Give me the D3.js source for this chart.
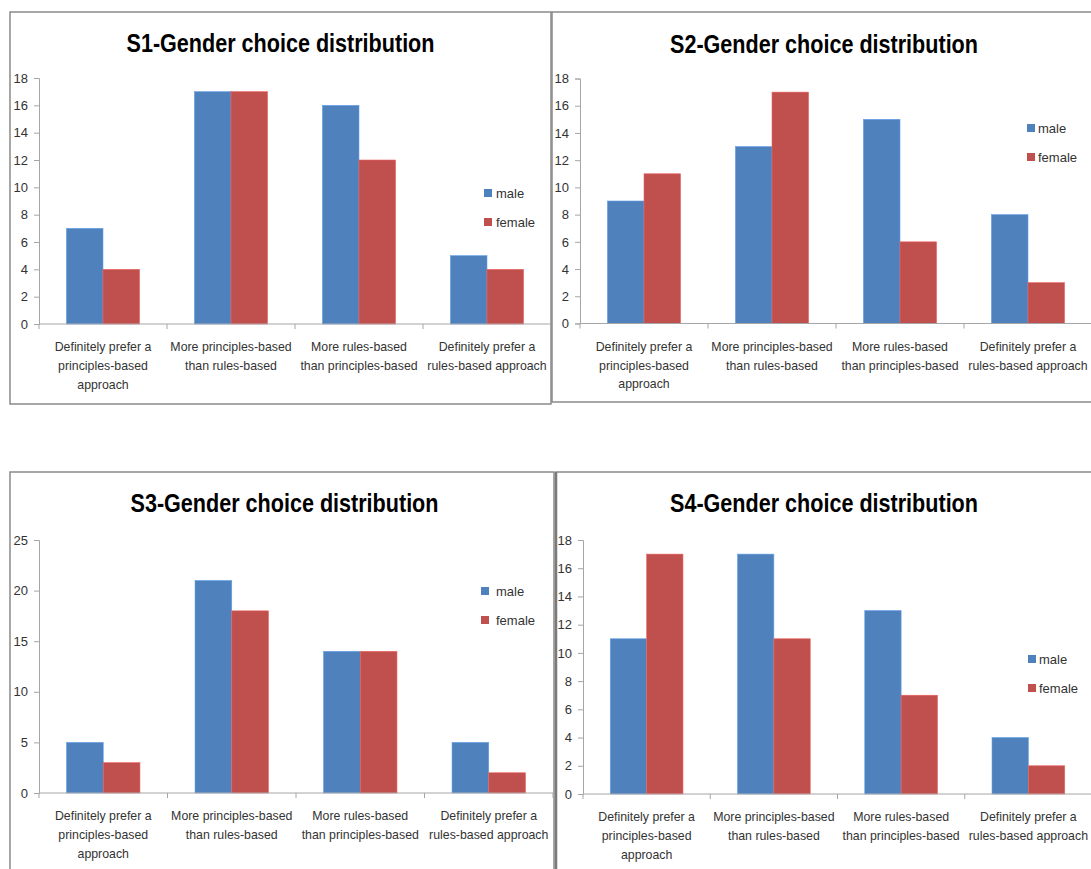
<!DOCTYPE html>
<html>
<head>
<meta charset="utf-8">
<script src="https://cdn.jsdelivr.net/npm/d3@7"></script>
<style>
  html, body { margin: 0; padding: 0; background: #fff; }
  svg { display: block; }
  text { font-family: "Liberation Sans", Arial, sans-serif; }
</style>
</head>
<body>
<svg id="chart" width="1091" height="869"></svg>
<script>
// Answer categories (line breaks mark how each axis label wraps)
const categories = [
  "Definitely prefer a\nprinciples-based\napproach",
  "More principles-based\nthan rules-based",
  "More rules-based\nthan principles-based",
  "Definitely prefer a\nrules-based approach"
];
const seriesNames = ["male", "female"];

// Counts per survey, in category order
const s1Male = [7, 17, 16, 5];
const s1Female = [4, 17, 12, 4];
const s2Male = [9, 13, 15, 8];
const s2Female = [11, 17, 6, 3];
const s3Male = [5, 21, 14, 5];
const s3Female = [3, 18, 14, 2];
const s4Male = [11, 17, 13, 4];
const s4Female = [17, 11, 7, 2];

// Y axis tick values
const ticks18 = [0, 2, 4, 6, 8, 10, 12, 14, 16, 18];
const ticks25 = [0, 5, 10, 15, 20, 25];

const titles = [
  "S1-Gender choice distribution",
  "S2-Gender choice distribution",
  "S3-Gender choice distribution",
  "S4-Gender choice distribution"
];

const colors = { male: "#4F81BD", female: "#C0504D" };

// Layout of each panel: frame box, plot box, title and legend anchors
const panels = [
  { title: titles[0], male: s1Male, female: s1Female, ticks: ticks18,
    frame: [10, 12, 551, 404], plot: { x0: 39, x1: 551, yTop: 78, yBase: 324 },
    titleAt: [280.5, 52], legendAt: [484, 193], legendGap: 4 },
  { title: titles[1], male: s2Male, female: s2Female, ticks: ticks18,
    frame: [552, 12, 1100, 402], plot: { x0: 580, x1: 1092, yTop: 78.5, yBase: 323.5 },
    titleAt: [824, 53], legendAt: [1027, 128], legendGap: 3 },
  { title: titles[2], male: s3Male, female: s3Female, ticks: ticks25,
    frame: [10, 472, 554, 900], plot: { x0: 39, x1: 553, yTop: 540, yBase: 793 },
    titleAt: [284.5, 512], legendAt: [481, 591], legendGap: 7 },
  { title: titles[3], male: s4Male, female: s4Female, ticks: ticks18,
    frame: [556, 472, 1100, 900], plot: { x0: 583, x1: 1092, yTop: 540, yBase: 794 },
    titleAt: [824, 512], legendAt: [1028, 659], legendGap: 3 }
];

const svg = d3.select("#chart");

panels.forEach((p, idx) => {
  const g = svg.append("g");

  // Panel border
  const [fx0, fy0, fx1, fy1] = p.frame;
  g.append("rect")
    .attr("x", fx0).attr("y", fy0)
    .attr("width", fx1 - fx0).attr("height", fy1 - fy0)
    .attr("fill", "none").attr("stroke", "#8a8a8a").attr("stroke-width", 1.5);
  if (idx === 3) {
    // heavier shared edge between the two lower panels
    g.append("line").attr("x1", fx0).attr("x2", fx0).attr("y1", fy0).attr("y2", fy1)
      .attr("stroke", "#7a7a7a").attr("stroke-width", 2.5);
  }

  // Title (condensed horizontally)
  g.append("text")
    .attr("transform", `translate(${p.titleAt[0]},${p.titleAt[1]}) scale(0.83,1)`)
    .attr("text-anchor", "middle")
    .attr("font-size", 26).attr("font-weight", "bold")
    .attr("fill", "#000")
    .text(p.title);

  const { x0, x1, yTop, yBase } = p.plot;
  const x = d3.scaleBand().domain(categories).range([x0, x1]).padding(0);
  const xs = d3.scaleBand().domain(seriesNames).range([0, x.bandwidth()])
    .paddingInner(0).paddingOuter(0.75);
  const y = d3.scaleLinear().domain([0, d3.max(p.ticks)]).range([yBase, yTop]);

  // Bars
  const rows = categories.map((c, i) => ({ c, male: p.male[i], female: p.female[i] }));
  const grp = g.selectAll("g.cat").data(rows).join("g")
    .attr("transform", d => `translate(${x(d.c)},0)`);
  grp.selectAll("rect").data(d => seriesNames.map(s => ({ s, v: d[s] }))).join("rect")
    .attr("x", d => xs(d.s))
    .attr("y", d => y(d.v))
    .attr("width", xs.bandwidth())
    .attr("height", d => y(0) - y(d.v))
    .attr("fill", d => colors[d.s])
    .attr("stroke", d => d3.color(colors[d.s]).brighter(0.6))
    .attr("stroke-width", 0.6);

  // Y axis
  const yAxis = g.append("g").attr("transform", `translate(${x0},0)`)
    .call(d3.axisLeft(y).tickValues(p.ticks).tickSize(5).tickPadding(6));
  yAxis.select(".domain").attr("stroke", "#a6a6a6");
  yAxis.selectAll(".tick line").attr("stroke", "#a6a6a6");
  yAxis.selectAll(".tick text").attr("font-size", 13).attr("fill", "#333")
    .style("font-family", null).attr("font-family", null);

  // X axis with ticks at category boundaries
  const xAxis = g.append("g").attr("transform", `translate(0,${yBase})`);
  xAxis.append("line").attr("x1", x0).attr("x2", x1).attr("stroke", "#a6a6a6");
  const bounds = categories.map(c => x(c)).concat([x1]);
  xAxis.selectAll("line.tk").data(bounds).join("line").attr("class", "tk")
    .attr("x1", d => d).attr("x2", d => d).attr("y1", 0).attr("y2", 5)
    .attr("stroke", "#a6a6a6");
  const lbl = xAxis.selectAll("text.cat").data(categories).join("text").attr("class", "cat")
    .attr("transform", c => `translate(${x(c) + x.bandwidth() / 2},0) scale(0.95,1)`)
    .attr("text-anchor", "middle")
    .attr("font-size", 13).attr("fill", "#333");
  lbl.each(function (c) {
    const t = d3.select(this);
    c.split("\n").forEach((line, i) => {
      t.append("tspan").attr("x", 0)
        .attr("y", 27.5 + i * 18.7).text(line);
    });
  });

  // Legend
  const leg = g.append("g").attr("transform", `translate(${p.legendAt[0]},${p.legendAt[1]})`);
  seriesNames.forEach((s, i) => {
    leg.append("rect").attr("x", 0).attr("y", i * 29 - 4).attr("width", 8).attr("height", 8)
      .attr("fill", colors[s]);
    leg.append("text").attr("x", 8 + p.legendGap).attr("y", i * 29 + 4.5)
      .attr("font-size", 13).attr("fill", "#333").text(s);
  });
});
</script>
</body>
</html>
